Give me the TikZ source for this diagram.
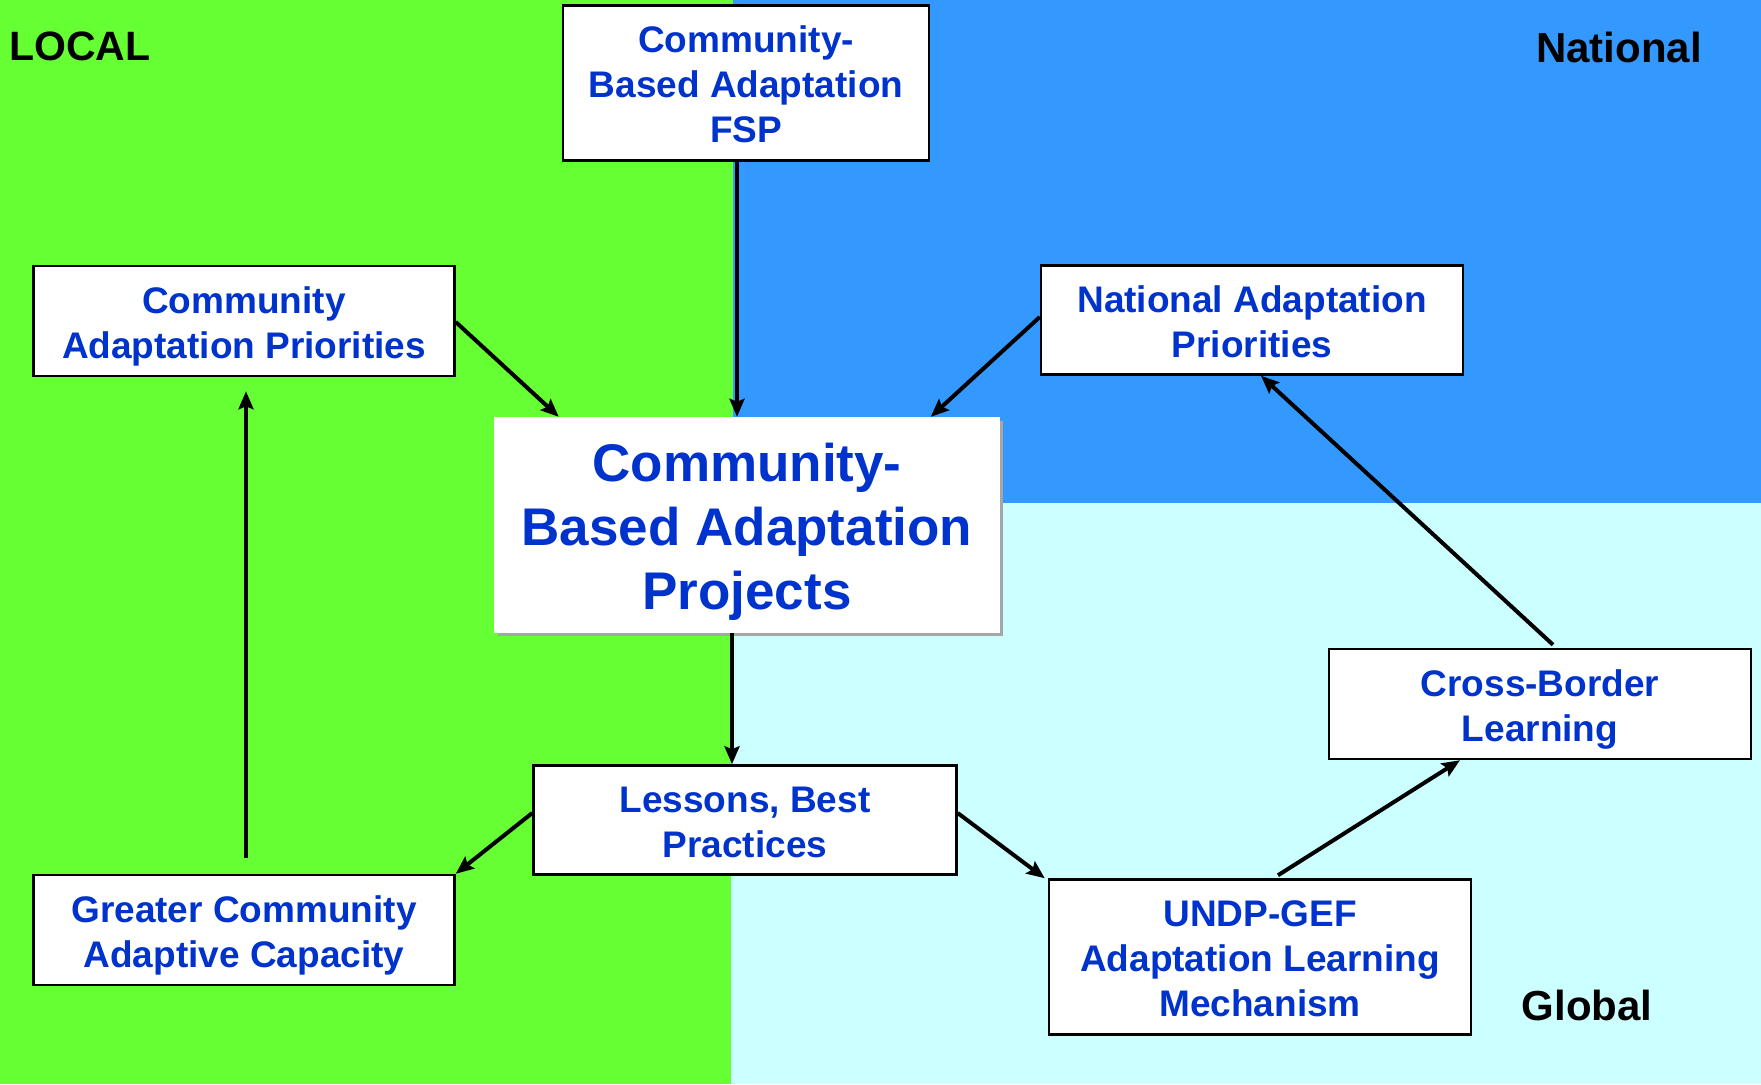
\documentclass[tikz,border=0pt]{standalone}
\usepackage{fontspec}
\setmainfont{Liberation Sans}
\usetikzlibrary{arrows.meta,calc}
\definecolor{lgreen}{HTML}{66FF33}
\definecolor{nblue}{HTML}{3399FF}
\definecolor{gcyan}{HTML}{CCFFFF}
\definecolor{tblue}{HTML}{0033CC}
\begin{document}
\begin{tikzpicture}[x=1pt,y=-1pt,
  box/.style={draw=black,line width=2.5pt,fill=white,text=tblue,align=center,inner sep=0pt,
    font=\bfseries\fontsize{37}{45}\selectfont,text depth=8pt},
  two/.style={text height=82pt},
  three/.style={text height=127pt},
  bigbox/.style={fill=white,text=tblue,align=center,inner sep=0pt,
    font=\bfseries\fontsize{53}{64}\selectfont,text depth=12pt,text height=181pt},
  region/.style={font=\bfseries\fontsize{42}{50}\selectfont,text=black,inner sep=0pt},
  arr/.style={line width=4pt,-{Stealth[length=18pt,width=15pt,inset=3pt]}}]
\useasboundingbox (0,0) rectangle (1761,1084);
% backgrounds
\fill[lgreen] (0,0) rectangle (733,1084);
\fill[nblue] (733,0) rectangle (1761,503);
\fill[gcyan] (731,503) rectangle (1761,1084);
% region labels
\node[region,anchor=west,font=\bfseries\fontsize{41}{50}\selectfont] (local) at (9,46) {LOCAL};
\node[region] (national) at (1619,47) {National};
\node[region] (global) at (1587,1005) {Global};
% central box with shadow
\fill[gray!70] (498,421) rectangle (1003,636);
\node[bigbox,minimum width=506pt,minimum height=216pt] (ctr) at (747,525)
  {Community-\\Based Adaptation\\Projects};
% boxes
\node[box,three,minimum width=366pt,minimum height=155pt] (fsp) at (746,83)
  {Community-\\Based Adaptation\\FSP};
\node[box,two,minimum width=421pt,minimum height=110pt] (cap) at (244,321)
  {Community\\Adaptation Priorities};
\node[box,two,minimum width=422pt,minimum height=109pt] (nap) at (1252,320)
  {National Adaptation\\Priorities};
\node[box,two,minimum width=423pt,minimum height=109pt] (les) at (745,820)
  {Lessons, Best\\Practices};
\node[box,two,minimum width=421pt,minimum height=110pt] (gcac) at (244,930)
  {Greater Community\\Adaptive Capacity};
\node[box,three,minimum width=422pt,minimum height=155pt] (undp) at (1260,957)
  {UNDP-GEF\\Adaptation Learning\\Mechanism};
\node[box,two,minimum width=422pt,minimum height=110pt] (cb) at (1540,704)
  {Cross-Border\\Learning};
% connectors
\draw[arr] ([xshift=-9pt]fsp.south) -- ([xshift=-10pt]ctr.north);
\draw[arr] ([yshift=-1pt]cap.east) -- ([xshift=65pt]ctr.north west);
\draw[arr] ([yshift=3pt]nap.west) -- ([xshift=437pt]ctr.north west);
\draw[arr] ([xshift=-15pt]ctr.south) -- ([xshift=-13pt]les.north);
\draw[arr] ([yshift=7pt]les.west) -- (gcac.north east);
\draw[arr] ([xshift=2pt,yshift=16pt]gcac.north) -- ([xshift=2pt,yshift=-14pt]cap.south);
\draw[arr] ([yshift=7pt]les.east) -- ([xshift=-3pt]undp.north west);
\draw[arr] ([xshift=18pt,yshift=3pt]undp.north) -- ([xshift=-80pt]cb.south);
\draw[arr] ([xshift=13pt,yshift=3pt]cb.north) -- ([xshift=9pt]nap.south);
\end{tikzpicture}
\end{document}
